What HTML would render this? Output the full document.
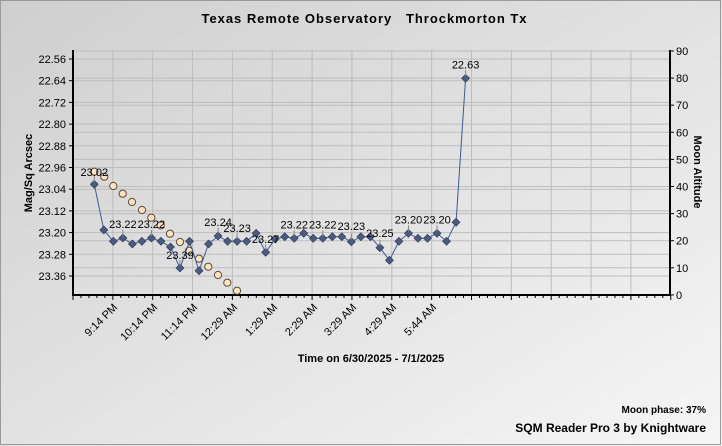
<!DOCTYPE html>
<html><head><meta charset="utf-8"><style>
html,body{margin:0;padding:0;width:722px;height:446px;overflow:hidden;background:#e6e6e6}
</style></head><body>
<svg width="722" height="446" xmlns="http://www.w3.org/2000/svg" font-family="Liberation Sans, sans-serif">
<defs>
<linearGradient id="bg" x1="0" y1="0" x2="1" y2="1">
<stop offset="0" stop-color="#cfcfcf"/><stop offset="0.5" stop-color="#e2e2e2"/><stop offset="1" stop-color="#f6f6f6"/>
</linearGradient>
</defs>
<rect x="0" y="0" width="722" height="446" fill="url(#bg)"/>
<rect x="0.5" y="0.5" width="720" height="444" fill="none" stroke="#9a9a9a"/>
<text x="364" y="23" font-size="13" font-weight="bold" text-anchor="middle" textLength="325" xml:space="preserve">Texas Remote Observatory   Throckmorton Tx</text>
<g id="grid" stroke="#bdbdbd" stroke-width="1"></g>
<line x1="73" y1="50" x2="73" y2="295" stroke="#000" stroke-width="2"/>
<line x1="670" y1="50" x2="670" y2="295" stroke="#000" stroke-width="2"/>
<line x1="72" y1="295" x2="671" y2="295" stroke="#000" stroke-width="2"/>
<g id="ticks" stroke="#000" stroke-width="1"></g>
<g id="ll" font-size="11" fill="#000" text-anchor="end"></g>
<g id="rl" font-size="11" fill="#000"></g>
<text transform="translate(32,173) rotate(-90)" font-size="11" font-weight="bold" text-anchor="middle">Mag/Sq Arcsec</text>
<text transform="translate(694,172) rotate(90)" font-size="11" font-weight="bold" text-anchor="middle">Moon Altitude</text>
<g font-size="11" text-anchor="end">
<text transform="translate(118,308) rotate(-45)">9:14 PM</text>
<text transform="translate(158,308) rotate(-45)">10:14 PM</text>
<text transform="translate(198,308) rotate(-45)">11:14 PM</text>
<text transform="translate(238,308) rotate(-45)">12:29 AM</text>
<text transform="translate(278,308) rotate(-45)">1:29 AM</text>
<text transform="translate(318,308) rotate(-45)">2:29 AM</text>
<text transform="translate(357,308) rotate(-45)">3:29 AM</text>
<text transform="translate(397,308) rotate(-45)">4:29 AM</text>
<text transform="translate(437,308) rotate(-45)">5:44 AM</text>
</g>
<text x="371" y="362" font-size="11" font-weight="bold" text-anchor="middle">Time on 6/30/2025 - 7/1/2025</text>
<text x="706" y="413" font-size="10" font-weight="bold" text-anchor="end">Moon phase: 37%</text>
<text x="706" y="432" font-size="12" font-weight="bold" text-anchor="end">SQM Reader Pro 3 by Knightware</text>
<g id="moon"></g>
<g id="ser"></g>
<g id="lab" font-size="11"></g>
</svg>
<script>
var ns="http://www.w3.org/2000/svg";
function el(p,t,a){var e=document.createElementNS(ns,t);for(var k in a)e.setAttribute(k,a[k]);document.getElementById(p).appendChild(e);return e;}
var L=["22.56","22.64","22.72","22.80","22.88","22.96","23.04","23.12","23.20","23.28","23.36"];
L.forEach(function(s,i){var y=59+i*21.7;el("grid","line",{x1:73,x2:670,y1:y,y2:y});el("ticks","line",{x1:69,x2:73,y1:y,y2:y});var t=el("ll","text",{x:66,y:y+4});t.textContent=s;});
for(var i=0;i<=9;i++){var y=51+i*27.1;el("grid","line",{x1:73,x2:670,y1:y,y2:y});el("ticks","line",{x1:670,x2:674,y1:y,y2:y});var t=el("rl","text",{x:676,y:y+4});t.textContent=String(90-i*10);}
for(var k=1;k<=14;k++){var x=73+k*39.85;el("grid","line",{x1:x,x2:x,y1:50,y2:295});}
for(var x=73;x<=671;x+=7.97){var big=Math.abs(((x-73)/39.85)-Math.round((x-73)/39.85))<0.05;el("ticks","line",{x1:x,x2:x,y1:295,y2:big?300:298});}
var ys=[184.3,230,241.3,238,244,241.3,238,241.3,247,268,241.3,270.7,244,236,241.3,241.3,241.3,233.3,252.3,239,236.7,238.3,233.3,238.3,238.3,236.7,236.7,241.7,236.7,236.7,247.7,260.3,241.3,233.3,238.3,238.3,233.3,241.3,222.3,78.3];
var pts=ys.map(function(y,i){return [94.3+i*9.52,y];});
var mx=[[94.3,171.7],[104.3,176.7],[113.3,186],[122.7,193.7],[132,202],[142,210],[151.3,217.7],[160.7,225.3],[170,233.7],[180,242],[189,250.7],[199,258.7],[208.3,266.7],[218,275],[227.3,282.7],[237,290.7]];
var labs=[[0,"23.02"],[3,"23.22"],[6,"23.22"],[9,"23.39"],[13,"23.24"],[15,"23.23"],[18,"23.27"],[21,"23.22"],[24,"23.22"],[27,"23.23"],[30,"23.25"],[33,"23.20"],[36,"23.20"],[39,"22.63"]];
labs.forEach(function(l){var p=pts[l[0]];el("lab","line",{x1:p[0],x2:p[0],y1:p[1]-2,y2:p[1]-8,stroke:"#888"});var ty=p[1]-10;if(l[0]==9)ty=259;if(l[0]==18)ty=243;if(l[0]==0)ty=176;if(l[0]==30)ty=237;if(l[0]==27)ty=230;if(l[0]==15)ty=232;var t=el("lab","text",{x:p[0],y:ty,"text-anchor":"middle"});t.textContent=l[1];});
mx.forEach(function(m){el("moon","circle",{cx:m[0],cy:m[1],r:3.6,fill:"#fde3c0",stroke:"#5a4a3a","stroke-width":1});});
el("ser","polyline",{points:pts.map(function(p){return p.join(",")}).join(" "),fill:"none",stroke:"#3d5a95","stroke-width":1});
pts.forEach(function(p){el("ser","polygon",{points:(p[0])+","+(p[1]-4)+" "+(p[0]+4)+","+p[1]+" "+p[0]+","+(p[1]+4)+" "+(p[0]-4)+","+p[1],fill:"#4a5c80",stroke:"#2a3450","stroke-width":0.6});});
</script>
</body></html>
